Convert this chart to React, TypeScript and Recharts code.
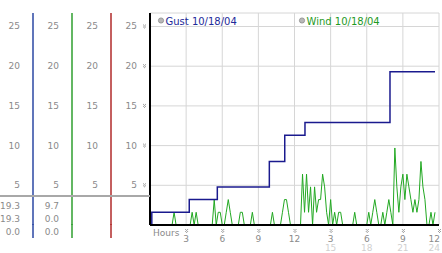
import React from 'react';
import { LineChart, Line, XAxis, YAxis, CartesianGrid } from 'recharts';

const hourTicks = [0, 3, 6, 9, 12, 15, 18, 21, 24];
const valueTicks = [5, 10, 15, 20, 25];

// gust steps (hour it changes, value after it)
const gustHours = [0, 0.15, 3.26, 5.59, 9.91, 11.19, 12.87, 19.93, 23.67];
const gustValues = [0, 1.6, 3.2, 4.8, 8.0, 11.3, 12.9, 19.3, 19.3];

// wind, one reading every 10 minutes
const windStepHours = 1 / 6;
const windValues = [
  0, 0, 0, 0, 0, 0, 0, 0, 0, 0, 0, 0,
  1.6, 0, 0, 0, 0, 0, 0, 0, 0, 1.6, 0, 1.6,
  0, 0, 0, 0, 0, 0, 0, 0, 3.2, 0, 1.6, 1.6,
  0, 0, 1.6, 3.2, 1.6, 0, 0, 0, 0, 1.6, 1.6, 0,
  0, 0, 0, 1.6, 0, 0, 0, 0, 0, 0, 0, 0,
  0, 1.6, 0, 0, 0, 0, 1.6, 3.2, 3.2, 1.6, 0, 0,
  0, 0, 0, 0, 6.4, 1.6, 6.4, 1.6, 4.8, 0, 4.8, 1.6,
  3.2, 3.2, 6.4, 4.8, 1.6, 0, 3.2, 0, 1.6, 0, 1.6, 1.6,
  0, 0, 0, 0, 0, 0, 1.6, 0, 0, 0, 0, 0,
  0, 1.6, 0, 1.6, 3.2, 1.6, 0, 0, 1.6, 0, 1.6, 3.2,
  1.6, 0, 9.7, 4.8, 1.6, 4.8, 6.4, 3.2, 6.4, 4.8, 3.2, 1.6,
  3.2, 1.6, 3.2, 8.0, 4.8, 3.2, 0, 0, 1.6, 0, 1.6,
];

// max / current / min shown under the left columns
const gustStats = [19.3, 19.3, 0.0];
const windStats = [9.7, 0.0, 0.0];

const gustData = gustHours.map((h, i) => ({ h, v: gustValues[i] }));
const windData = windValues.map((v, i) => ({ h: i * windStepHours, v }));

const FONT = '"DejaVu Sans", Verdana, sans-serif';
const LABEL = '#8a8a8a';

// left to right; recharts stacks left axes by id, nearest the plot first
const columns = [
  { id: 'd_blue', color: '#2b47a3', width: 33, stats: gustStats },
  { id: 'c_green', color: '#2f9f2f', width: 39, stats: windStats },
  { id: 'b_red', color: '#b02a2a', width: 39, stats: [] as number[] },
];

const legend = [
  { name: 'Gust 10/18/04', color: '#1d2a9a', x: 161 },
  { name: 'Wind 10/18/04', color: '#1f9a1f', x: 302 },
];

const Hatch = ({ x, y }: { x: number; y: number }) => (
  <g fill="#a0a0a0">
    <rect x={x} y={y} width={1} height={1} />
    <rect x={x + 2} y={y} width={1} height={1} />
    <rect x={x + 1} y={y + 1} width={1} height={1} />
    <rect x={x} y={y + 2} width={1} height={1} />
    <rect x={x + 2} y={y + 2} width={1} height={1} />
    <rect x={x + 1} y={y + 3} width={1} height={1} />
  </g>
);

const YTick = (props: any) => {
  const { x, y, payload, hatch } = props;
  return (
    <g>
      <text x={x - 13} y={y + 3} textAnchor="end" fontSize={9} fill={LABEL} fontFamily={FONT}>
        {payload.value}
      </text>
      {hatch && <Hatch x={x - 7} y={y - 2} />}
    </g>
  );
};

const XTick = (props: any) => {
  const { x, y, payload } = props;
  const h = payload.value;
  if (h === 0) {
    return (
      <text x={x + 3} y={y + 11} fontSize={9} fill={LABEL} fontFamily={FONT}>
        Hours
      </text>
    );
  }
  const last = h === 24;
  const tx = last ? x + 1 : x;
  const anchor = last ? 'end' : 'middle';
  return (
    <g>
      <Hatch x={x - 1} y={y + 4} />
      <text x={tx} y={y + 16.5} textAnchor={anchor} fontSize={9} fill={LABEL} fontFamily={FONT}>
        {h > 12 ? h - 12 : h}
      </text>
      {h > 12 && (
        <text x={tx} y={y + 26} textAnchor={anchor} fontSize={9} fill="#d0d0d0" fontFamily={FONT}>
          {h}
        </text>
      )}
    </g>
  );
};

const App = () => {
  let lineX = 0;
  const colLines = columns.map((c) => {
    lineX += c.width;
    return { ...c, lineX };
  });

  return (
    <div style={{ position: 'fixed', left: 0, top: 0, width: 442, height: 253, background: '#fff' }}>
      <LineChart width={442} height={253} margin={{ top: 13, right: 3, bottom: 0, left: 0 }}>
        <CartesianGrid stroke="#d6d6d6" yAxisId="a_main" />
        <XAxis
          dataKey="h"
          type="number"
          domain={[0, 24]}
          ticks={hourTicks}
          interval={0}
          height={28}
          tickLine={false}
          tickSize={0}
          tickMargin={0}
          axisLine={{ stroke: '#000', strokeWidth: 2 }}
          tick={<XTick />}
        />
        <YAxis
          yAxisId="a_main"
          type="number"
          domain={[0, 26.7]}
          ticks={valueTicks}
          interval={0}
          width={39}
          tickLine={false}
          tickSize={0}
          tickMargin={0}
          axisLine={{ stroke: '#000', strokeWidth: 2 }}
          tick={(p: any) => <YTick {...p} hatch />}
          allowDataOverflow
        />
        {columns.map((c) => (
          <YAxis
            key={c.id}
            yAxisId={c.id}
            type="number"
            domain={[0, 26.7]}
            ticks={valueTicks}
            interval={0}
            width={c.width}
            tickLine={false}
            tickSize={0}
            tickMargin={0}
            axisLine={{ stroke: c.color, strokeWidth: 1.5 }}
            tick={(p: any) => <YTick {...p} />}
            allowDataOverflow
          />
        ))}
        <Line
          yAxisId="a_main"
          data={windData}
          dataKey="v"
          type="linear"
          stroke="#22a822"
          strokeWidth={1}
          dot={false}
          isAnimationActive={false}
        />
        <Line
          yAxisId="a_main"
          data={gustData}
          dataKey="v"
          type="stepAfter"
          stroke="#1a1a8e"
          strokeWidth={1.5}
          dot={false}
          isAnimationActive={false}
        />
      </LineChart>
      <svg
        width={442}
        height={253}
        style={{ position: 'absolute', left: 0, top: 0, pointerEvents: 'none' }}
        fontFamily={FONT}
      >
        {legend.map((l) => (
          <g key={l.name}>
            <circle cx={l.x} cy={20.5} r={2.6} fill="#b8b8b8" stroke="#8c8c8c" strokeWidth={0.8} />
            <text x={l.x + 4.5} y={24.5} fontSize={10} fill={l.color}>
              {l.name}
            </text>
          </g>
        ))}
        <rect x={0} y={195} width={150} height={2} fill="#a8a8a8" />
        {colLines.map((c) => (
          <g key={c.id}>
            <line x1={c.lineX} x2={c.lineX} y1={224} y2={238} stroke={c.color} strokeWidth={1.5} />
            {c.stats.map((s, i) => (
              <text
                key={i}
                x={c.lineX - 13}
                y={208.5 + i * 13}
                textAnchor="end"
                fontSize={9}
                fill={LABEL}
              >
                {s.toFixed(1)}
              </text>
            ))}
          </g>
        ))}
      </svg>
    </div>
  );
};

export default App;
